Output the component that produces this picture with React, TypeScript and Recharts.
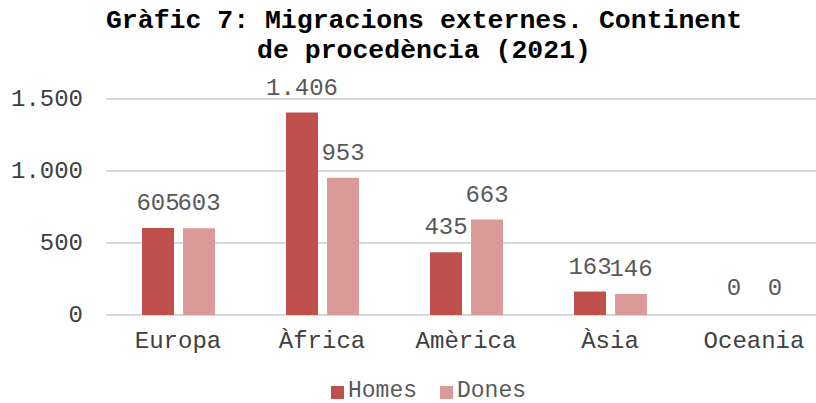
import React from 'react'
import { BarChart, Bar, XAxis, YAxis, CartesianGrid, LabelList, Cell } from 'recharts'

const continents = ['Europa', 'Àfrica', 'Amèrica', 'Àsia', 'Oceania']
const homes = [605, 1406, 435, 163, 0]
const dones = [603, 953, 663, 146, 0]
const yTicks = [0, 500, 1000, 1500]
const seriesNames = ['Homes', 'Dones']
const titleLines = ['Gràfic 7: Migracions externes. Continent', 'de procedència (2021)']

const colors = { homes: '#C0504D', dones: '#DA9A98' }
const FONT = "'Liberation Mono', 'Courier New', monospace"

const data = continents.map((c, i) => ({ name: c, homes: homes[i], dones: dones[i] }))

function fmt(v: number) {
  return String(v).replace(/\B(?=(\d{3})+(?!\d))/g, '.')
}

// zero bars need a sliver of height so recharts still places their label
const zeroSliver = (v: any) => (Number(v) === 0 ? 0.5 : 0)

function XTick({ x, y, payload }: any) {
  return (
    <text x={x} y={y + 33} textAnchor="middle" fill="#404040" fontSize={24} fontFamily={FONT}>
      {payload.value}
    </text>
  )
}

function YTick({ x, y, payload }: any) {
  return (
    <text x={x} y={y + 7} textAnchor="end" fill="#404040" fontSize={24} fontFamily={FONT}>
      {fmt(payload.value)}
    </text>
  )
}

function BarLabel({ x, y, width, value }: any) {
  const v = Number(value)
  return (
    <text x={x + width / 2} y={y - (v === 0 ? 20 : 18)} textAnchor="middle" fill="#595959" fontSize={24} fontFamily={FONT}>
      {fmt(v)}
    </text>
  )
}

export default function App() {
  return (
    <div style={{ position: 'absolute', left: 0, top: 0, width: 816, height: 403, overflow: 'hidden', background: '#fff' }}>
      <BarChart width={826} height={403} data={data} margin={{ top: 99, right: 0, bottom: 48, left: 0 }} barGap={9} barSize={32}>
        <CartesianGrid vertical={false} stroke="#D9D9D9" strokeWidth={2} />
        <XAxis dataKey="name" axisLine={false} tickLine={false} tickSize={0} tickMargin={0} height={40} tick={<XTick />} interval={0} />
        <YAxis domain={[0, 1500]} ticks={yTicks} axisLine={false} tickLine={false} tickSize={0} tickMargin={23} width={106} tick={<YTick />} />
        <Bar dataKey="homes" name={seriesNames[0]} fill={colors.homes} minPointSize={zeroSliver} isAnimationActive={false}>
          {homes.map((v, i) => <Cell key={i} fill={v === 0 ? 'transparent' : colors.homes} />)}
          <LabelList dataKey="homes" content={<BarLabel />} />
        </Bar>
        <Bar dataKey="dones" name={seriesNames[1]} fill={colors.dones} minPointSize={zeroSliver} isAnimationActive={false}>
          {dones.map((v, i) => <Cell key={i} fill={v === 0 ? 'transparent' : colors.dones} />)}
          <LabelList dataKey="dones" content={<BarLabel />} />
        </Bar>
      </BarChart>
      <svg width={816} height={403} style={{ position: 'absolute', left: 0, top: 0, pointerEvents: 'none' }}>
        <text x={424} y={27.5} textAnchor="middle" fontSize={26.5} fontWeight="bold" fontFamily={FONT} fill="#000">
          {titleLines[0]}
        </text>
        <text x={424} y={57.5} textAnchor="middle" fontSize={26.5} fontWeight="bold" fontFamily={FONT} fill="#000">
          {titleLines[1]}
        </text>
        <rect x={331} y={386} width={13} height={13} fill={colors.homes} />
        <text x={348} y={397} fontSize={23} fontFamily={FONT} fill="#595959">{seriesNames[0]}</text>
        <rect x={440} y={386} width={13} height={13} fill={colors.dones} />
        <text x={457} y={397} fontSize={23} fontFamily={FONT} fill="#595959">{seriesNames[1]}</text>
      </svg>
    </div>
  )
}
